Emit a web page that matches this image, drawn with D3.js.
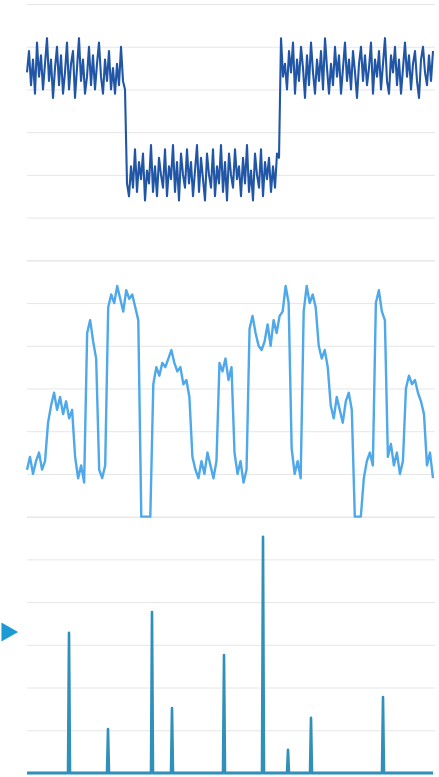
<!DOCTYPE html>
<html>
<head>
<meta charset="utf-8">
<script src="https://cdn.jsdelivr.net/npm/d3@7"></script>
<style>
  html, body { margin: 0; padding: 0; background: #ffffff; }
  svg { display: block; }
  .grid line { stroke: #e6e6e6; stroke-width: 1; }
  .grid .domain { display: none; }
</style>
</head>
<body>
<svg id="chart" width="439" height="777"></svg>
<script>
// Panel 1: two-state signal (high / low / high), sampled every step
const stateHighA = [
  4.4, 4.9, 4.1, 4.7, 3.9, 5.1, 4.3, 4.8, 4.0, 4.6,
  5.2, 4.2, 4.7, 3.8, 4.5, 5.0, 4.1, 4.8, 3.9, 4.4,
  5.1, 4.0, 4.6, 4.9, 3.8, 4.5, 5.2, 4.2, 4.7, 3.9,
  4.3, 5.0, 4.1, 4.8, 4.0, 4.6, 5.1, 4.3, 3.9, 4.7,
  4.2, 4.9, 4.0, 4.5, 3.9, 4.6, 4.1, 5.0, 4.2, 4.0
];
const stateLow = [
  1.8, 1.5, 2.2, 1.7, 2.6, 1.6, 2.3, 1.9, 2.5, 1.4,
  2.1, 1.8, 2.7, 1.6, 2.2, 1.5, 2.4, 2.0, 1.7, 2.6,
  1.5, 2.2, 1.9, 2.7, 1.6, 2.3, 1.4, 2.5, 2.0, 1.7,
  2.6, 1.8, 2.3, 1.5, 2.1, 2.7, 1.6, 2.4, 1.9, 1.4,
  2.5, 2.0, 1.7, 2.6, 1.5, 2.2, 1.8, 2.7, 1.6, 2.3,
  1.4, 2.5, 2.0, 1.7, 2.6, 1.9, 2.2, 1.5, 2.4, 1.8,
  2.7, 1.6, 2.1, 1.4, 2.5, 2.0, 1.7, 2.6, 1.5, 2.3,
  1.9, 2.4, 1.6, 2.2, 1.7, 2.5, 2.4
];
const stateHighB = [
  5.2, 4.3, 4.6, 4.0, 4.9, 4.4, 5.1, 3.9, 4.7, 4.2,
  5.0, 4.5, 3.8, 4.8, 4.1, 5.1, 4.4, 3.9, 4.7, 4.2,
  4.9, 4.0, 5.2, 4.5, 3.9, 4.6, 4.1, 5.0, 4.3, 4.8,
  3.9, 4.5, 5.1, 4.2, 4.7, 4.0, 4.9, 4.4, 3.8, 4.6,
  5.0, 4.2, 4.8, 4.1, 4.5, 5.1, 3.9, 4.7, 4.3, 4.9,
  4.0, 4.6, 5.2, 4.2, 3.9, 4.8, 4.4, 5.0, 4.1, 4.7,
  3.9, 4.5, 5.1, 4.3, 4.8, 4.0, 4.6, 4.9, 4.2, 3.8,
  4.7, 5.0, 4.4, 4.1, 4.8, 4.2, 4.9
];

// Panel 2: multi-level signal
const levelSignal = [
  1.1, 1.4, 1.0, 1.3, 1.5, 1.1, 1.3,
  2.2, 2.6, 2.9, 2.5, 2.8, 2.4, 2.7, 2.3, 2.5,
  1.4, 0.9, 1.2, 0.8,
  4.3, 4.6, 4.1, 3.7,
  1.1, 0.9, 1.2,
  4.9, 5.2, 5.0, 5.4, 5.1, 4.8, 5.3, 5.1, 5.2, 4.9, 4.6,
  0, 0, 0, 0,
  3.1, 3.5, 3.3, 3.6, 3.5, 3.7, 3.9, 3.6, 3.4, 3.5, 3.1, 3.2, 2.8,
  1.4, 1.1, 0.9, 1.3, 1.0, 1.5, 1.2, 0.9, 1.3,
  3.6, 3.4, 3.7, 3.2, 3.5,
  1.5, 1.0, 1.3, 0.8, 1.1,
  4.4, 4.7, 4.3, 4.0, 3.9, 4.1, 4.5, 4.0, 4.6, 4.3, 4.7, 4.8, 5.4, 5.0,
  1.6, 1.0, 1.3, 0.9,
  4.8, 5.4, 5.0, 5.2, 4.9,
  4.0, 3.7, 3.9, 3.5,
  2.6, 2.3, 2.8, 2.5, 2.2, 2.7, 2.9, 2.5,
  0, 0, 0,
  0.9, 1.3, 1.5, 1.2,
  5.0, 5.3, 4.8, 4.6,
  1.4, 1.7, 1.2, 1.5, 1.0, 1.3,
  3.0, 3.3, 3.1, 3.2, 2.9, 2.7, 2.4,
  1.2, 1.5, 0.9
];

// Panel 3: sparse events (sample index and magnitude)
const eventSamples = 407;
const eventIndex = [42, 81, 125, 145, 197, 236, 261, 284, 356];
const eventValue = [3.28, 1.03, 3.77, 1.52, 2.76, 5.53, 0.54, 1.29, 1.78];
const markerValue = 3.3;

const gridTicks = [0, 1, 2, 3, 4, 5, 6];

const svg = d3.select("#chart");
const left = 27, right = 433, gridRight = 435;
const top0 = 4, panelH = 256.33;

function panelScale(k) {
  return d3.scaleLinear().domain([0, 6])
    .range([top0 + panelH * (k + 1), top0 + panelH * k]);
}
const yScales = [panelScale(0), panelScale(1), panelScale(2)];

// Horizontal grid for each panel
yScales.forEach(y => {
  svg.append("g")
    .attr("class", "grid")
    .attr("transform", `translate(${left},0)`)
    .call(d3.axisLeft(y).tickValues(gridTicks).tickSize(-(gridRight - left)).tickFormat(""));
});

// Panel 1
const topSeries = stateHighA.concat(stateLow, stateHighB);
const x1 = d3.scaleLinear().domain([0, topSeries.length - 1]).range([left, right]);
svg.append("path")
  .datum(topSeries)
  .attr("fill", "none")
  .attr("stroke", "#2156a6")
  .attr("stroke-width", 2.1)
  .attr("stroke-linejoin", "round")
  .attr("d", d3.line().x((d, i) => x1(i)).y(d => yScales[0](d)));

// Panel 2
const x2 = d3.scaleLinear().domain([0, levelSignal.length - 1]).range([left, right]);
svg.append("path")
  .datum(levelSignal)
  .attr("fill", "none")
  .attr("stroke", "#4ea8ea")
  .attr("stroke-width", 2.4)
  .attr("stroke-linejoin", "round")
  .attr("d", d3.line().x((d, i) => x2(i)).y(d => yScales[1](d)));

// Panel 3
const events = d3.range(eventSamples).map(() => 0);
eventIndex.forEach((idx, j) => { events[idx] = eventValue[j]; });
const x3 = d3.scaleLinear().domain([0, eventSamples - 1]).range([left, right]);
svg.append("line")
  .attr("x1", x3(0)).attr("x2", x3(eventSamples - 1))
  .attr("y1", yScales[2](0)).attr("y2", yScales[2](0))
  .attr("stroke", "#5fb2cb")
  .attr("stroke-width", 3);
svg.append("path")
  .datum(events)
  .attr("fill", "none")
  .attr("stroke", "#3090ba")
  .attr("stroke-width", 2.6)
  .attr("stroke-linejoin", "round")
  .attr("d", d3.line().x((d, i) => x3(i)).y(d => yScales[2](d)));

// Marker on the left edge
svg.append("path")
  .attr("d", d3.symbol(d3.symbolTriangle, 160)())
  .attr("transform", `translate(7,${yScales[2](markerValue)}) rotate(90)`)
  .attr("fill", "#1b9ad4");
</script>
</body>
</html>
